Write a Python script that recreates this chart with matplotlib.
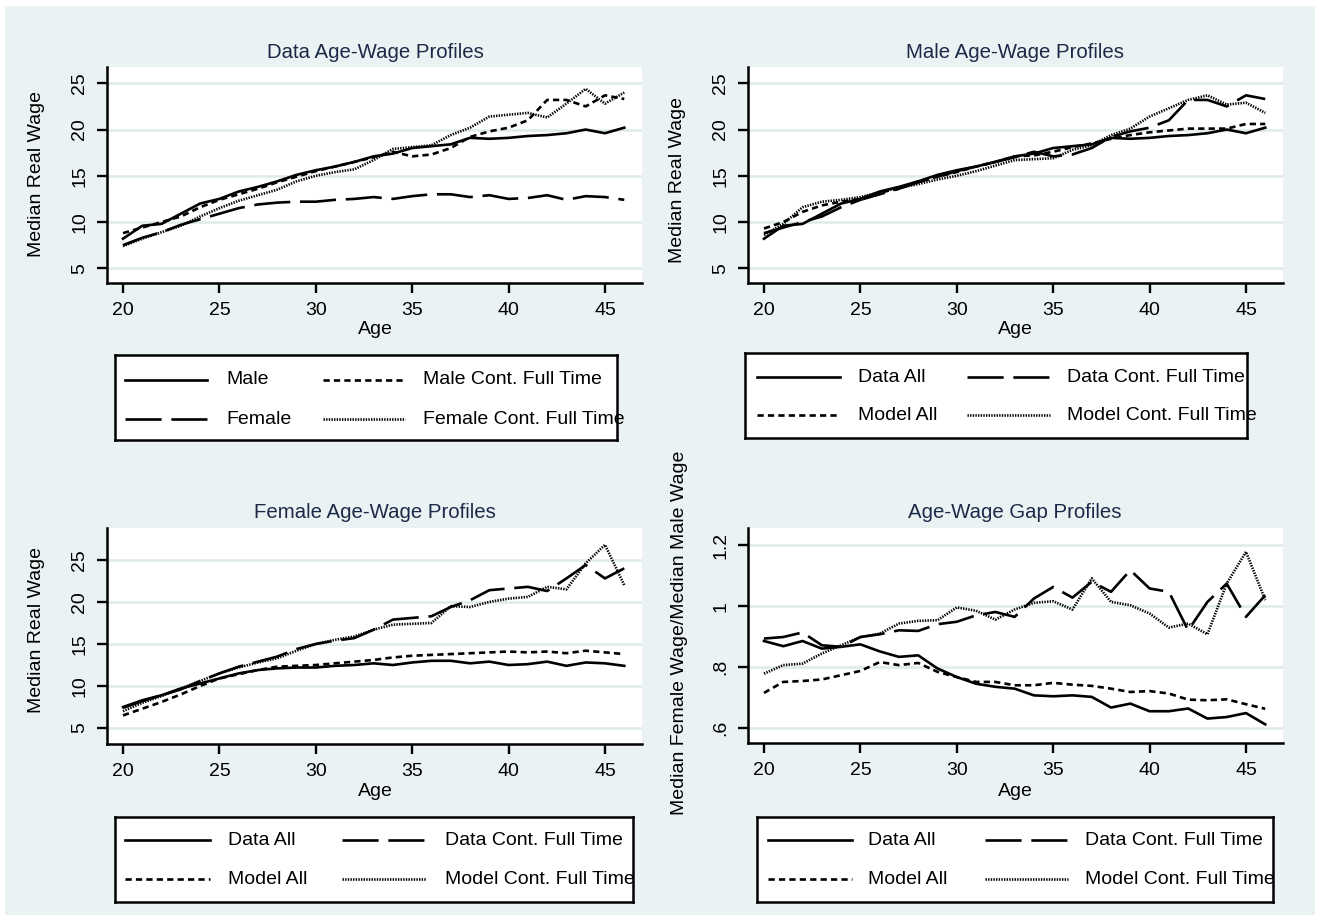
import matplotlib
matplotlib.use("Agg")
import matplotlib.pyplot as plt
from matplotlib.patches import Rectangle

plt.rcParams['font.family'] = ['Liberation Sans', 'DejaVu Sans']
plt.rcParams['lines.scale_dashes'] = False

# ---------------- data ----------------
ages = list(range(20, 47))

male_data = [8.2, 9.6, 9.8, 10.9, 12.0, 12.5, 13.3, 13.8, 14.4, 15.1, 15.6, 16.0, 16.5, 17.1,
             17.4, 18.0, 18.2, 18.4, 19.1, 19.0, 19.1, 19.3, 19.4, 19.6, 20.0, 19.6, 20.2]
female_data = [7.5, 8.3, 8.9, 9.7, 10.3, 10.9, 11.5, 11.9, 12.1, 12.2, 12.2, 12.4, 12.5, 12.7,
               12.5, 12.8, 13.0, 13.0, 12.7, 12.9, 12.5, 12.6, 12.9, 12.4, 12.8, 12.7, 12.4]
male_cft_data = [8.8, 9.4, 10.0, 10.6, 11.6, 12.4, 13.0, 13.6, 14.3, 14.9, 15.5, 16.0, 16.5, 17.0,
                 17.6, 17.1, 17.3, 18.0, 19.2, 19.8, 20.2, 21.0, 23.2, 23.2, 22.5, 23.7, 23.3]
female_cft_data = [7.4, 8.2, 8.9, 9.6, 10.6, 11.5, 12.3, 12.9, 13.5, 14.4, 15.0, 15.4, 15.7, 16.7,
                   17.9, 18.1, 18.3, 19.4, 20.2, 21.4, 21.6, 21.8, 21.3, 22.8, 24.4, 22.8, 24.0]

male_model = [9.3, 10.0, 11.1, 11.8, 12.2, 12.5, 13.2, 13.6, 14.4, 14.9, 15.4, 16.0, 16.5, 17.1,
              17.2, 17.6, 18.1, 18.5, 19.0, 19.4, 19.7, 19.9, 20.1, 20.1, 20.1, 20.6, 20.6]
male_cft_model = [8.6, 9.8, 11.6, 12.2, 12.4, 12.7, 13.2, 13.7, 14.1, 14.6, 15.0, 15.5, 16.1, 16.7,
                  16.8, 16.9, 17.8, 18.3, 19.4, 20.1, 21.4, 22.3, 23.2, 23.7, 22.7, 22.9, 21.8]
female_model = [6.5, 7.3, 8.1, 9.0, 10.0, 10.9, 11.4, 11.9, 12.3, 12.4, 12.5, 12.7, 12.9, 13.1,
                13.4, 13.6, 13.7, 13.8, 13.9, 14.0, 14.1, 14.0, 14.1, 13.9, 14.2, 14.0, 13.8]
female_cft_model = [7.0, 8.0, 8.8, 9.7, 10.6, 11.5, 12.2, 12.8, 13.3, 14.2, 15.0, 15.5, 15.9, 16.7,
                    17.3, 17.4, 17.5, 19.5, 19.4, 20.0, 20.4, 20.6, 21.8, 21.5, 24.6, 26.8, 22.0]

gap_data = [0.886, 0.869, 0.886, 0.861, 0.867, 0.875, 0.852, 0.834, 0.839, 0.796, 0.768, 0.746,
            0.736, 0.730, 0.708, 0.705, 0.708, 0.703, 0.668, 0.681, 0.656, 0.656, 0.665, 0.632,
            0.637, 0.650, 0.613]
gap_cft_data = [0.894, 0.899, 0.914, 0.872, 0.867, 0.899, 0.908, 0.921, 0.919, 0.941, 0.949, 0.970,
                0.981, 0.965, 1.025, 1.063, 1.028, 1.080, 1.047, 1.118, 1.058, 1.047, 0.921, 1.014,
                1.074, 0.965, 1.036]
gap_model = [0.716, 0.752, 0.755, 0.760, 0.774, 0.788, 0.817, 0.807, 0.814, 0.785, 0.768, 0.752,
             0.752, 0.741, 0.741, 0.749, 0.743, 0.739, 0.730, 0.719, 0.722, 0.714, 0.694, 0.692,
             0.695, 0.679, 0.664]
gap_cft_model = [0.779, 0.807, 0.812, 0.845, 0.872, 0.899, 0.910, 0.943, 0.952, 0.954, 0.996, 0.985,
                 0.956, 0.989, 1.011, 1.016, 0.989, 1.091, 1.014, 1.003, 0.976, 0.930, 0.943, 0.908,
                 1.074, 1.178, 1.020]

x_ticks = [20, 25, 30, 35, 40, 45]
wage_ticks = [5, 10, 15, 20, 25]
gap_ticks = [0.6, 0.8, 1.0, 1.2]
gap_tick_labels = ['.6', '.8', '1', '1.2']

titles = ["Data Age-Wage Profiles", "Male Age-Wage Profiles",
          "Female Age-Wage Profiles", "Age-Wage Gap Profiles"]
legend_labels = [["Male", "Female", "Male Cont. Full Time", "Female Cont. Full Time"],
                 ["Data All", "Model All", "Data Cont. Full Time", "Model Cont. Full Time"],
                 ["Data All", "Model All", "Data Cont. Full Time", "Model Cont. Full Time"],
                 ["Data All", "Model All", "Data Cont. Full Time", "Model Cont. Full Time"]]

# ---------------- style ----------------
W, H = 1320, 915
BG = '#EAF2F3'
GRID = '#E0E9EB'
TITLE_C = '#1C2A48'
FS = 14
TFS = 14.7
LW = 1.9
SOLID = '-'
LDASH = (0, (26, 7))
SDASH = (0, (4.5, 3))
DOT = (0, (1, 0.9))

fig = plt.figure(figsize=(W / 100, H / 100), dpi=100, facecolor='white')
fig.patches.append(Rectangle((5 / W, 0), (W - 10) / W, (H - 6) / H,
                             transform=fig.transFigure, facecolor=BG, edgecolor='none', zorder=-10))


def ftext(x, y, s, **kw):
    fig.text(x / W, 1 - y / H, s, **kw)


def make_ax(l, t, r, b):
    return fig.add_axes([l / W, 1 - b / H, (r - l) / W, (b - t) / H])


def style_ax(ax, ylim, yticks, ylabels=None):
    ax.set_facecolor('white')
    ax.set_xlim(19.17, 46.92)
    ax.set_ylim(*ylim)
    ax.set_xticks(x_ticks)
    ax.set_yticks(yticks)
    if ylabels is not None:
        ax.set_yticklabels(ylabels)
    for s in ['top', 'right']:
        ax.spines[s].set_visible(False)
    for s in ['left', 'bottom']:
        ax.spines[s].set_linewidth(1.8)
        ax.spines[s].set_color('black')
    ax.tick_params(axis='both', direction='out', length=7.5, width=1.7, labelsize=FS, pad=6)
    ax.tick_params(axis='y', labelrotation=90)
    for lab in ax.get_yticklabels():
        lab.set_va('center')
    ax.yaxis.grid(True, color=GRID, lw=1.8)
    ax.set_axisbelow(True)


def legend_box(l, t, r, b, rows, c1_line, c1_text, c2_line, c2_text, styles, labels):
    lax = make_ax(l, t, r, b)
    lax.set_xlim(l, r)
    lax.set_ylim(b, t)
    lax.set_xticks([])
    lax.set_yticks([])
    lax.set_facecolor('white')
    for s in lax.spines.values():
        s.set_linewidth(1.8)
        s.set_color('black')
    pos = [(c1_line, c1_text, rows[0]), (c1_line, c1_text, rows[1]),
           (c2_line, c2_text, rows[0]), (c2_line, c2_text, rows[1])]
    for (ln, tx, yy), st, lab in zip(pos, styles, labels):
        lax.plot(ln, [yy, yy], color='black', lw=LW, linestyle=st, dash_capstyle='butt')
        lax.text(tx, yy, lab, fontsize=FS, va='center', ha='left', clip_on=False)


def draw(ax, series):
    for ser, st in series:
        ax.plot(ages, ser, color='black', lw=LW, linestyle=st, dash_capstyle='butt')


# ---------------- panels ----------------
ax1 = make_ax(107, 67, 642, 283)
style_ax(ax1, (3.41, 26.76), wage_ticks)
draw(ax1, [(male_data, SOLID), (female_data, LDASH), (male_cft_data, SDASH), (female_cft_data, DOT)])

ax2 = make_ax(748, 67, 1283, 283)
style_ax(ax2, (3.41, 26.76), wage_ticks)
draw(ax2, [(male_data, SOLID), (male_cft_data, LDASH), (male_model, SDASH), (male_cft_model, DOT)])

ax3 = make_ax(107, 528, 642, 744)
style_ax(ax3, (3.1, 28.8), wage_ticks)
draw(ax3, [(female_data, SOLID), (female_cft_data, LDASH), (female_model, SDASH), (female_cft_model, DOT)])

ax4 = make_ax(748, 528, 1283, 743)
style_ax(ax4, (0.552, 1.256), gap_ticks, gap_tick_labels)
draw(ax4, [(gap_data, SOLID), (gap_cft_data, LDASH), (gap_model, SDASH), (gap_cft_model, DOT)])

# ---------------- texts ----------------
ftext(375, 52, titles[0], ha='center', va='center', fontsize=TFS, color=TITLE_C)
ftext(1015, 52, titles[1], ha='center', va='center', fontsize=TFS, color=TITLE_C)
ftext(375, 513, titles[2], ha='center', va='center', fontsize=TFS, color=TITLE_C)
ftext(1015, 513, titles[3], ha='center', va='center', fontsize=TFS, color=TITLE_C)

for (x, y) in [(375, 330), (1015, 330), (375, 791), (1015, 791)]:
    ftext(x, y, "Age", ha='center', va='center', fontsize=FS)

ftext(37, 174, "Median Real Wage", ha='center', va='center', rotation=90, fontsize=FS)
ftext(677, 180, "Median Real Wage", ha='center', va='center', rotation=90, fontsize=FS)
ftext(37, 630, "Median Real Wage", ha='center', va='center', rotation=90, fontsize=FS)
ftext(679, 633, "Median Female Wage/Median Male Wage", ha='center', va='center', rotation=90, fontsize=FS)

# ---------------- legends ----------------
legend_box(115, 355, 617, 440, (380, 419), (125, 207), 226, (323, 405), 423,
           [SOLID, LDASH, SDASH, DOT], legend_labels[0])
legend_box(745, 353, 1247, 438, (377, 415), (757, 840), 858, (967, 1050), 1067,
           [SOLID, SDASH, LDASH, DOT], legend_labels[1])
legend_box(115, 817, 633, 902, (840, 879), (125, 210), 228, (342, 426), 445,
           [SOLID, SDASH, LDASH, DOT], legend_labels[2])
legend_box(757, 817, 1273, 902, (840, 879), (768, 852), 868, (985, 1068), 1085,
           [SOLID, SDASH, LDASH, DOT], legend_labels[3])

fig.savefig("out.png", dpi=100, facecolor=fig.get_facecolor())
